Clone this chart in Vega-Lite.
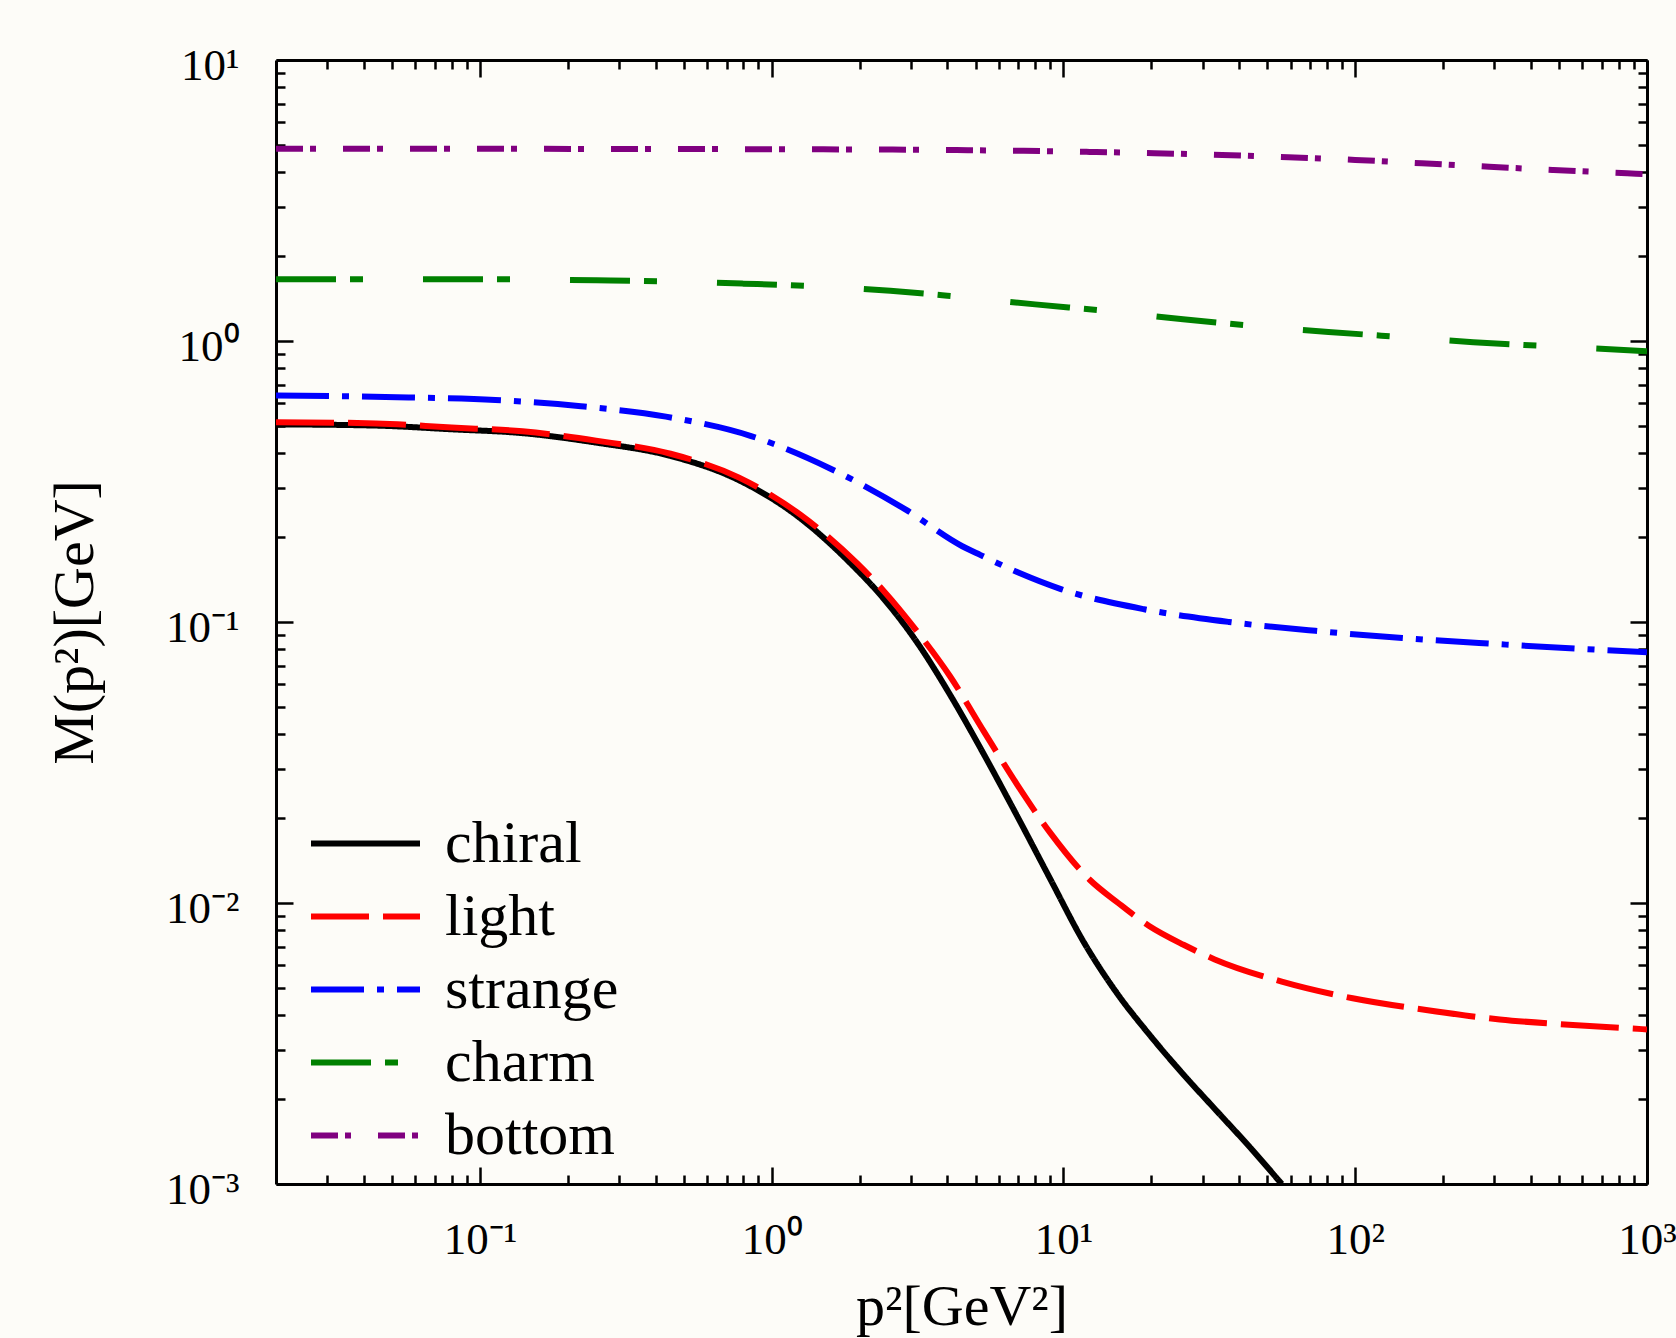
{
  "$schema": "https://vega.github.io/schema/vega-lite/v6.json",
  "autosize": {"type": "none"},
  "padding": {"left": 276, "top": 60, "right": 29, "bottom": 154},
  "width": 1371,
  "height": 1124,
  "background": "#fdfcf8",
  "config": {"view": {"stroke": null}},
  "data": {"values": [
    {"flavor": "chiral", "p2": 0.02, "M": 0.505},
    {"flavor": "chiral", "p2": 0.044, "M": 0.500},
    {"flavor": "chiral", "p2": 0.08, "M": 0.485},
    {"flavor": "chiral", "p2": 0.14, "M": 0.470},
    {"flavor": "chiral", "p2": 0.25, "M": 0.435},
    {"flavor": "chiral", "p2": 0.45, "M": 0.390},
    {"flavor": "chiral", "p2": 0.77, "M": 0.320},
    {"flavor": "chiral", "p2": 1.26, "M": 0.233},
    {"flavor": "chiral", "p2": 1.86, "M": 0.162},
    {"flavor": "chiral", "p2": 2.42, "M": 0.121},
    {"flavor": "chiral", "p2": 3.14, "M": 0.085},
    {"flavor": "chiral", "p2": 4.09, "M": 0.055},
    {"flavor": "chiral", "p2": 5.32, "M": 0.034},
    {"flavor": "chiral", "p2": 6.92, "M": 0.0205},
    {"flavor": "chiral", "p2": 9.0, "M": 0.0122},
    {"flavor": "chiral", "p2": 11.7, "M": 0.0073},
    {"flavor": "chiral", "p2": 15.2, "M": 0.0048},
    {"flavor": "chiral", "p2": 19.8, "M": 0.00338},
    {"flavor": "chiral", "p2": 25.8, "M": 0.00245},
    {"flavor": "chiral", "p2": 33.5, "M": 0.00182},
    {"flavor": "chiral", "p2": 43.6, "M": 0.00135},
    {"flavor": "chiral", "p2": 56, "M": 0.001},
    {"flavor": "light", "p2": 0.02, "M": 0.514},
    {"flavor": "light", "p2": 0.044, "M": 0.509},
    {"flavor": "light", "p2": 0.08, "M": 0.492},
    {"flavor": "light", "p2": 0.14, "M": 0.477},
    {"flavor": "light", "p2": 0.25, "M": 0.442},
    {"flavor": "light", "p2": 0.45, "M": 0.397},
    {"flavor": "light", "p2": 0.77, "M": 0.327},
    {"flavor": "light", "p2": 1.26, "M": 0.240},
    {"flavor": "light", "p2": 1.96, "M": 0.162},
    {"flavor": "light", "p2": 2.42, "M": 0.129},
    {"flavor": "light", "p2": 3.14, "M": 0.093},
    {"flavor": "light", "p2": 4.09, "M": 0.064},
    {"flavor": "light", "p2": 5.32, "M": 0.041},
    {"flavor": "light", "p2": 6.92, "M": 0.0265},
    {"flavor": "light", "p2": 9.0, "M": 0.0178},
    {"flavor": "light", "p2": 12.3, "M": 0.0121},
    {"flavor": "light", "p2": 15.4, "M": 0.0100},
    {"flavor": "light", "p2": 19.6, "M": 0.0083},
    {"flavor": "light", "p2": 25.8, "M": 0.0071},
    {"flavor": "light", "p2": 33, "M": 0.0063},
    {"flavor": "light", "p2": 56, "M": 0.00525},
    {"flavor": "light", "p2": 98, "M": 0.00458},
    {"flavor": "light", "p2": 175, "M": 0.00416},
    {"flavor": "light", "p2": 313, "M": 0.00385},
    {"flavor": "light", "p2": 557, "M": 0.00368},
    {"flavor": "light", "p2": 1000, "M": 0.00355},
    {"flavor": "strange", "p2": 0.02, "M": 0.640},
    {"flavor": "strange", "p2": 0.057, "M": 0.630},
    {"flavor": "strange", "p2": 0.113, "M": 0.617},
    {"flavor": "strange", "p2": 0.222, "M": 0.586},
    {"flavor": "strange", "p2": 0.434, "M": 0.538},
    {"flavor": "strange", "p2": 0.85, "M": 0.459},
    {"flavor": "strange", "p2": 1.585, "M": 0.352},
    {"flavor": "strange", "p2": 2.9, "M": 0.250},
    {"flavor": "strange", "p2": 4.5, "M": 0.186},
    {"flavor": "strange", "p2": 5.2, "M": 0.173},
    {"flavor": "strange", "p2": 7.0, "M": 0.150},
    {"flavor": "strange", "p2": 9.8, "M": 0.131},
    {"flavor": "strange", "p2": 18.9, "M": 0.111},
    {"flavor": "strange", "p2": 37, "M": 0.100},
    {"flavor": "strange", "p2": 73, "M": 0.093},
    {"flavor": "strange", "p2": 145, "M": 0.0877},
    {"flavor": "strange", "p2": 286, "M": 0.0838},
    {"flavor": "strange", "p2": 600, "M": 0.0802},
    {"flavor": "strange", "p2": 1000, "M": 0.078},
    {"flavor": "charm", "p2": 0.02, "M": 1.66},
    {"flavor": "charm", "p2": 0.1, "M": 1.66},
    {"flavor": "charm", "p2": 0.25, "M": 1.645},
    {"flavor": "charm", "p2": 0.5, "M": 1.625},
    {"flavor": "charm", "p2": 0.8, "M": 1.60},
    {"flavor": "charm", "p2": 1.5, "M": 1.56},
    {"flavor": "charm", "p2": 2.55, "M": 1.51},
    {"flavor": "charm", "p2": 4.0, "M": 1.45},
    {"flavor": "charm", "p2": 8.0, "M": 1.35},
    {"flavor": "charm", "p2": 15, "M": 1.27},
    {"flavor": "charm", "p2": 25.7, "M": 1.195},
    {"flavor": "charm", "p2": 50, "M": 1.12},
    {"flavor": "charm", "p2": 81, "M": 1.077},
    {"flavor": "charm", "p2": 150, "M": 1.03},
    {"flavor": "charm", "p2": 254, "M": 0.99},
    {"flavor": "charm", "p2": 500, "M": 0.955},
    {"flavor": "charm", "p2": 1000, "M": 0.92},
    {"flavor": "bottom", "p2": 0.02, "M": 4.83},
    {"flavor": "bottom", "p2": 0.1, "M": 4.83},
    {"flavor": "bottom", "p2": 0.5, "M": 4.82},
    {"flavor": "bottom", "p2": 1.5, "M": 4.81},
    {"flavor": "bottom", "p2": 4.3, "M": 4.78},
    {"flavor": "bottom", "p2": 7.3, "M": 4.75},
    {"flavor": "bottom", "p2": 12.3, "M": 4.71},
    {"flavor": "bottom", "p2": 20.5, "M": 4.66},
    {"flavor": "bottom", "p2": 35, "M": 4.59},
    {"flavor": "bottom", "p2": 59, "M": 4.51},
    {"flavor": "bottom", "p2": 100, "M": 4.41},
    {"flavor": "bottom", "p2": 169, "M": 4.29},
    {"flavor": "bottom", "p2": 288, "M": 4.17},
    {"flavor": "bottom", "p2": 478, "M": 4.06},
    {"flavor": "bottom", "p2": 855, "M": 3.95},
    {"flavor": "bottom", "p2": 1000, "M": 3.92}
  ]},
  "resolve": {"axis": {"x": "independent", "y": "independent"}},
  "layer": [
    {
      "mark": {"type": "line", "strokeWidth": 6, "clip": true, "interpolate": "monotone"},
      "encoding": {
        "x": {
          "field": "p2", "type": "quantitative",
          "scale": {"type": "log", "domain": [0.02, 1000], "nice": false},
          "axis": {
            "orient": "bottom",
            "values": [0.03,0.04,0.05,0.06,0.07,0.08,0.09,0.1,0.2,0.3,0.4,0.5,0.6,0.7,0.8,0.9,1,2,3,4,5,6,7,8,9,10,20,30,40,50,60,70,80,90,100,200,300,400,500,600,700,800,900,1000],
            "labelExpr": "datum.value == 0.1 ? '10⁻¹' : datum.value == 1 ? '10⁰' : datum.value == 10 ? '10¹' : datum.value == 100 ? '10²' : datum.value == 1000 ? '10³' : ''",
            "tickSize": {"condition": {"test": "abs(log(datum.value)/LN10 - round(log(datum.value)/LN10)) < 0.001", "value": -17}, "value": -9},
            "tickWidth": 2.5, "tickColor": "black",
            "domainColor": "black", "domainWidth": 3,
            "grid": false,
            "labelFont": "Liberation Serif", "labelFontSize": 45, "labelColor": "black",
            "labelPadding": 50, "labelFlush": false, "labelOverlap": false, "labelBound": false,
            "labelBaseline": "top",
            "title": "p²[GeV²]",
            "titleFont": "Liberation Serif", "titleFontSize": 58, "titleFontWeight": "normal", "titleColor": "black",
            "titleY": 140, "titleBaseline": "alphabetic"
          }
        },
        "y": {
          "field": "M", "type": "quantitative",
          "scale": {"type": "log", "domain": [0.001, 10], "nice": false},
          "axis": {
            "orient": "left",
            "values": [0.001,0.002,0.003,0.004,0.005,0.006,0.007,0.008,0.009,0.01,0.02,0.03,0.04,0.05,0.06,0.07,0.08,0.09,0.1,0.2,0.3,0.4,0.5,0.6,0.7,0.8,0.9,1,2,3,4,5,6,7,8,9,10],
            "labelExpr": "datum.value == 0.001 ? '10⁻³' : datum.value == 0.01 ? '10⁻²' : datum.value == 0.1 ? '10⁻¹' : datum.value == 1 ? '10⁰' : datum.value == 10 ? '10¹' : ''",
            "tickSize": {"condition": {"test": "abs(log(datum.value)/LN10 - round(log(datum.value)/LN10)) < 0.001", "value": -17}, "value": -9},
            "tickWidth": 2.5, "tickColor": "black",
            "domainColor": "black", "domainWidth": 3,
            "grid": false,
            "labelFont": "Liberation Serif", "labelFontSize": 45, "labelColor": "black",
            "labelPadding": 54, "labelFlush": false, "labelOverlap": false, "labelBound": false,
            "labelOffset": 5,
            "title": "M(p²)[GeV]",
            "titleFont": "Liberation Serif", "titleFontSize": 58, "titleFontWeight": "normal", "titleColor": "black",
            "titleAngle": -90, "titleX": -184, "titleY": 562, "titleBaseline": "alphabetic", "titleAlign": "center"
          }
        },
        "color": {
          "field": "flavor", "type": "nominal",
          "scale": {"domain": ["chiral", "light", "strange", "charm", "bottom"], "range": ["black", "red", "blue", "green", "purple"]},
          "legend": {"title": null, "orient": "none", "legendX": 32, "legendY": 747, "padding": 0, "symbolType": "stroke", "symbolSize": 11881, "symbolStrokeWidth": 6, "clipHeight": 73, "rowPadding": 0, "labelFont": "Liberation Serif", "labelFontSize": 60, "labelColor": "black", "labelOffset": 22, "labelLimit": 400}
        },
        "strokeDash": {
          "field": "flavor", "type": "nominal",
          "scale": {"domain": ["chiral", "light", "strange", "charm", "bottom"], "range": [[1, 0], [58, 14], [53, 13, 7, 13], [60, 14, 13, 60], [27, 7, 6, 27]]},
          "legend": {"title": null, "orient": "none", "legendX": 32, "legendY": 747, "padding": 0, "symbolType": "stroke", "symbolSize": 11881, "symbolStrokeWidth": 6, "clipHeight": 73, "rowPadding": 0, "labelFont": "Liberation Serif", "labelFontSize": 60, "labelColor": "black", "labelOffset": 22, "labelLimit": 400}
        }
      }
    },
    {
      "mark": {"type": "point", "opacity": 0},
      "encoding": {
        "x": {
          "field": "p2", "type": "quantitative",
          "scale": {"type": "log", "domain": [0.02, 1000], "nice": false},
          "axis": {
            "orient": "top",
            "values": [0.03,0.04,0.05,0.06,0.07,0.08,0.09,0.1,0.2,0.3,0.4,0.5,0.6,0.7,0.8,0.9,1,2,3,4,5,6,7,8,9,10,20,30,40,50,60,70,80,90,100,200,300,400,500,600,700,800,900,1000],
            "labels": false, "title": null, "grid": false,
            "tickSize": {"condition": {"test": "abs(log(datum.value)/LN10 - round(log(datum.value)/LN10)) < 0.001", "value": -17}, "value": -9},
            "tickWidth": 2.5, "tickColor": "black",
            "domainColor": "black", "domainWidth": 3
          }
        },
        "y": {
          "field": "M", "type": "quantitative",
          "scale": {"type": "log", "domain": [0.001, 10], "nice": false},
          "axis": {
            "orient": "right",
            "values": [0.001,0.002,0.003,0.004,0.005,0.006,0.007,0.008,0.009,0.01,0.02,0.03,0.04,0.05,0.06,0.07,0.08,0.09,0.1,0.2,0.3,0.4,0.5,0.6,0.7,0.8,0.9,1,2,3,4,5,6,7,8,9,10],
            "labels": false, "title": null, "grid": false,
            "tickSize": {"condition": {"test": "abs(log(datum.value)/LN10 - round(log(datum.value)/LN10)) < 0.001", "value": -17}, "value": -9},
            "tickWidth": 2.5, "tickColor": "black",
            "domainColor": "black", "domainWidth": 3
          }
        }
      }
    }
  ]
}
